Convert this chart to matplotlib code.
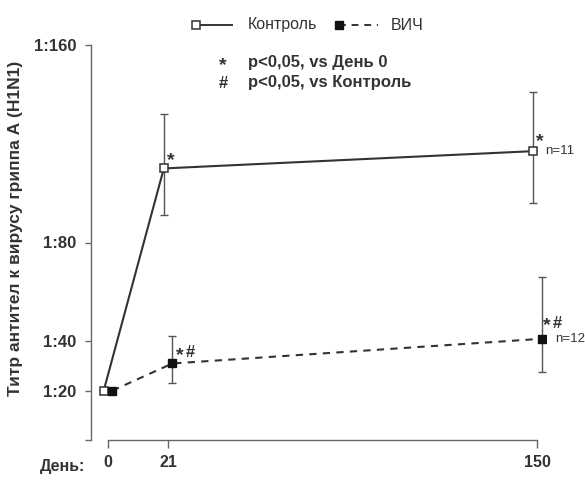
import matplotlib.pyplot as plt
from matplotlib.lines import Line2D

plt.rcParams['font.family'] = ['Liberation Sans', 'DejaVu Sans']

# data (titer read as 1:x)
days = [0, 21, 150]
control = [20, 110, 117]
control_lo = [0, 19, 21]
control_hi = [0, 22, 24]
hiv = [20, 31, 41]
hiv_lo = [0, 8, 13.5]
hiv_hi = [0, 11, 25]

y_ticks = [0, 20, 40, 80, 160]
y_labels = ['', '1:20', '1:40', '1:80', '1:160']
x_ticks = [0, 21, 150]

n_labels = ['n=11', 'n=12']

dark = '#333333'
axis_col = '#666666'
W, H = 585, 480


def fx(px):
    return px / W


def fy(py):
    return 1 - py / H


def mark(txt, xy, dx, dy, size):
    # dx, dy in points from the data point, text sits on its baseline
    ax.annotate(txt, xy, xytext=(dx, dy), textcoords='offset points', ha='left',
                va='baseline', fontsize=size, fontweight='bold', color=dark,
                annotation_clip=False)


fig = plt.figure(figsize=(5.85, 4.8), dpi=100)
ax = fig.add_axes([fx(91), fy(440), (546 - 91) / W, (440 - 45) / H])

dodge = 1.5
xc = [d - dodge for d in days]
xh = [d + dodge for d in days]

# error bars (skip day 0)
ax.errorbar(xc, control, yerr=[control_lo, control_hi], fmt='none', ecolor='#555555',
            elinewidth=1, capsize=3, capthick=1, errorevery=(1, 1), zorder=1)
ax.errorbar(xh, hiv, yerr=[hiv_lo, hiv_hi], fmt='none', ecolor='#555555',
            elinewidth=1, capsize=3, capthick=1, errorevery=(1, 1), zorder=1)

ax.plot(xc, control, '-', color=dark, lw=1.5, marker='s', ms=5.5,
        mfc='white', mec=dark, mew=1.1, zorder=3)
ax.plot(xh, hiv, '--', color=dark, lw=1.5, dashes=(3.5, 3), marker='s', ms=5.5,
        mfc='#111111', mec='#111111', zorder=3)

# significance marks: * vs day 0, # vs control
mark('*', (xc[1], control[1]), 2, 2.7, 14)
mark('*', (xc[2], control[2]), 1.7, 3.6, 14)
mark('*', (xh[1], hiv[1]), 2.4, 2.2, 14)
mark('#', (xh[1], hiv[1]), 9.6, 4.3, 12)
mark('*', (xh[2], hiv[2]), 0.8, 6.4, 14)
mark('#', (xh[2], hiv[2]), 8, 7.7, 12)

# n labels
ax.annotate(n_labels[0], (xc[2], control[2]), xytext=(9, 0), textcoords='offset points',
            ha='left', va='center', fontsize=9.5, color=dark, annotation_clip=False)
ax.annotate(n_labels[1], (xh[2], hiv[2]), xytext=(9.4, 0), textcoords='offset points',
            ha='left', va='center', fontsize=9.5, color=dark, annotation_clip=False)

ax.set_xlim(-5.94, 153)
ax.set_ylim(0, 160)

ax.set_yticks(y_ticks, y_labels, fontweight='bold', fontsize=12, color=dark)
ax.set_xticks(x_ticks, [str(d) for d in x_ticks], fontweight='bold', fontsize=11.5, color=dark)

for side in ['top', 'right']:
    ax.spines[side].set_visible(False)
for side in ['left', 'bottom']:
    ax.spines[side].set_color(axis_col)
    ax.spines[side].set_linewidth(1)
ax.spines['left'].set_bounds(0, 160)
ax.spines['bottom'].set_bounds(0, 150)

ax.tick_params(axis='y', direction='out', length=4.5, width=1, color=axis_col, pad=6)
ax.tick_params(axis='x', direction='out', length=5.8, width=1, color=axis_col, pad=5)
ax.patch.set_alpha(0)

fig.text(fx(63), fy(467), 'День:', ha='center', va='center', fontsize=11.5,
         fontweight='bold', color=dark)
fig.text(fx(16), fy(228), 'Титр антител к вирусу гриппа А (H1N1)', rotation=90,
         ha='center', va='center', fontsize=12.5, fontweight='bold', color=dark)

# legend
fig.add_artist(Line2D([fx(196), fx(232)], [fy(25), fy(25)], transform=fig.transFigure,
                      color=dark, lw=1.4))
fig.add_artist(Line2D([fx(196)], [fy(25)], transform=fig.transFigure, marker='s', ms=6,
                      mfc='white', mec=dark, mew=1.1, lw=0))
fig.text(fx(248), fy(25), 'Контроль', ha='left', va='center', fontsize=11.5, color=dark)
fig.add_artist(Line2D([fx(339), fx(378)], [fy(25), fy(25)], transform=fig.transFigure,
                      color=dark, lw=1.4, ls='--', dashes=(3.5, 3)))
fig.add_artist(Line2D([fx(339)], [fy(25)], transform=fig.transFigure, marker='s', ms=6,
                      mfc='#111111', mec='#111111', lw=0))
fig.text(fx(391), fy(25), 'ВИЧ', ha='left', va='center', fontsize=11.5, color=dark)

fig.text(fx(223), fy(70.3), '*', ha='center', va='baseline', fontsize=14,
         fontweight='bold', color=dark)
fig.text(fx(248), fy(62), 'p<0,05, vs День 0', ha='left', va='center', fontsize=12,
         fontweight='bold', color=dark)
fig.text(fx(223), fy(88), '#', ha='center', va='baseline', fontsize=12,
         fontweight='bold', color=dark)
fig.text(fx(248), fy(83), 'p<0,05, vs Контроль', ha='left', va='center', fontsize=12,
         fontweight='bold', color=dark)

fig.savefig('out.png', dpi=100)
